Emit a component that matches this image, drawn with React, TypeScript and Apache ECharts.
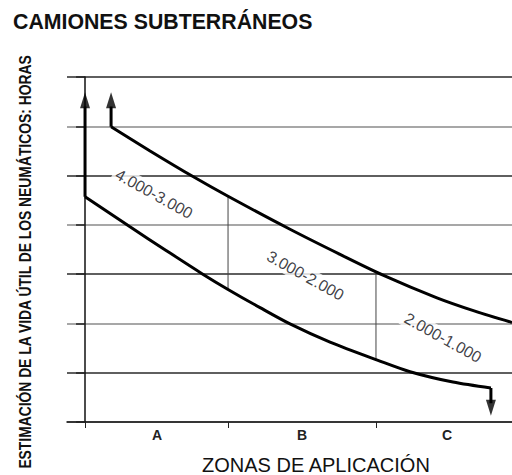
import React, { useEffect, useRef } from 'react';
import * as echarts from 'echarts';

const titleText = 'CAMIONES SUBTERRÁNEOS';
const yTitle = 'ESTIMACIÓN DE LA VIDA ÚTIL DE LOS NEUMÁTICOS: HORAS';
const xTitle = 'ZONAS DE APLICACIÓN';

const zones = ['A', 'B', 'C'];
const zoneTicks = [0, 0.983, 2.0];
const zoneLabelPos = [0.495, 1.491, 2.488];

const upperX = [0.179, 0.447, 0.742, 0.983, 1.409, 1.753, 2.048, 2.419, 2.68, 2.935];
const upperY = [5.99, 5.5, 4.98, 4.58, 3.91, 3.4, 2.98, 2.52, 2.25, 2.02];
const lowerX = [0, 0.309, 0.557, 0.804, 0.983, 1.203, 1.409, 1.684, 2.014, 2.234, 2.529, 2.79];
const lowerY = [4.57, 3.96, 3.48, 3.01, 2.69, 2.32, 1.99, 1.62, 1.25, 1.02, 0.81, 0.69];

// vertical arrow shafts: x, start y (curve corner), end y (arrow base)
const shaftX = [0.179, 0, 2.79];
const shaftFrom = [5.99, 4.57, 0.69];
const shaftTo = [6.4, 6.4, 0.38];
// arrow heads: centre position and direction
const headX = [0.179, 0, 2.79];
const headY = [6.53, 6.53, 0.29];
const headRot = [0, 0, 180];

// zone dividers between the curves
const dividerX = [0.983, 2.0];
const dividerTop = [4.58, 3.06];
const dividerBottom = [2.69, 1.26];

const bandLabels = ['4.000-3.000', '3.000-2.000', '2.000-1.000'];
const bandLabelX = [0.475, 1.515, 2.46];
const bandLabelY = [4.63, 2.97, 1.71];

export default function App() {
  const ref = useRef<HTMLDivElement>(null);
  useEffect(() => {
    if (!ref.current) return;
    const chart = echarts.init(ref.current, null, { renderer: 'svg' });
    const lineBlack = { color: '#000', width: 3 };
    const series: any[] = [
      {
        type: 'line',
        data: upperX.map((x, i) => [x, upperY[i]]),
        smooth: 0.3,
        symbol: 'none',
        lineStyle: lineBlack,
        z: 5,
      },
      {
        type: 'line',
        data: lowerX.map((x, i) => [x, lowerY[i]]),
        smooth: 0.3,
        symbol: 'none',
        lineStyle: lineBlack,
        z: 5,
      },
    ];
    shaftX.forEach((x, i) => {
      series.push({
        type: 'line',
        data: [[x, shaftFrom[i]], [x, shaftTo[i]]],
        symbol: 'none',
        lineStyle: lineBlack,
        z: 5,
      });
    });
    dividerX.forEach((x, i) => {
      series.push({
        type: 'line',
        data: [[x, dividerTop[i]], [x, dividerBottom[i]]],
        symbol: 'none',
        lineStyle: { color: '#444', width: 1 },
        z: 3,
      });
    });
    series.push({
      type: 'scatter',
      data: headX.map((x, i) => ({ value: [x, headY[i]], symbolRotate: headRot[i] })),
      symbol: 'triangle',
      symbolSize: [10, 16],
      itemStyle: { color: '#000' },
      z: 6,
    });
    series.push({
      type: 'scatter',
      data: bandLabelX.map((x, i) => ({ value: [x, bandLabelY[i]], name: bandLabels[i] })),
      symbol: 'circle',
      symbolSize: 1,
      itemStyle: { color: 'rgba(0,0,0,0)' },
      label: {
        show: true,
        position: 'inside',
        formatter: (p: any) => p.name,
        rotate: -29,
        fontFamily: 'Liberation Sans',
        fontSize: 16,
        color: '#0d0d14',
        backgroundColor: '#fff',
        padding: [1, 3],
      },
      labelLayout: { hideOverlap: false },
      z: 7,
    });

    chart.setOption({
      animation: false,
      backgroundColor: '#fff',
      title: [
        {
          text: titleText,
          left: 13,
          top: 11,
          padding: 0,
          textStyle: { fontFamily: 'Liberation Sans', fontWeight: 'bold', fontSize: 21.3, color: '#111' },
        },
        {
          text: xTitle,
          left: 202,
          top: 455,
          padding: 0,
          textStyle: { fontFamily: 'Liberation Sans', fontWeight: 'normal', fontSize: 20, color: '#111' },
        },
      ],
      graphic: [
        {
          type: 'text',
          x: 25,
          y: 262,
          rotation: Math.PI / 2,
          scaleX: 0.84,
          style: {
            text: yTitle,
            fontFamily: 'Liberation Sans',
            fontWeight: 'bold',
            fontSize: 16.5,
            fill: '#111',
            align: 'center',
            verticalAlign: 'middle',
          },
        },
      ],
      grid: { left: 67, right: 0, top: 77, bottom: 53, outerBoundsMode: 'none', containLabel: false },
      xAxis: {
        type: 'value',
        min: -0.124,
        max: 2.935,
        axisLine: { show: true, onZero: false, lineStyle: { color: '#111', width: 1.5 } },
        axisTick: {
          show: true,
          customValues: zoneTicks,
          length: 6,
          lineStyle: { color: '#222', width: 1 },
        },
        axisLabel: {
          show: true,
          customValues: zoneLabelPos,
          margin: 6,
          formatter: (v: number) => {
            let best = 0;
            zoneLabelPos.forEach((p, i) => {
              if (Math.abs(p - v) < Math.abs(zoneLabelPos[best] - v)) best = i;
            });
            return zones[best];
          },
          fontFamily: 'Liberation Sans',
          fontWeight: 'bold',
          fontSize: 14,
          color: '#222',
        },
        splitLine: { show: false },
      },
      yAxis: {
        type: 'value',
        min: 0,
        max: 7,
        interval: 1,
        axisLine: { show: true, lineStyle: { color: '#111', width: 1.5 } },
        axisTick: { show: true, length: 9, lineStyle: { color: '#222', width: 1.5 } },
        axisLabel: { show: false },
        splitLine: { show: true, lineStyle: { color: ['#8a8a8a', '#2a2a2a'], width: 1.5 } },
      },
      series,
    });
    return () => chart.dispose();
  }, []);
  return (
    <div
      ref={ref}
      style={{ position: 'fixed', left: 0, top: 0, width: 512, height: 475 }}
    />
  );
}
